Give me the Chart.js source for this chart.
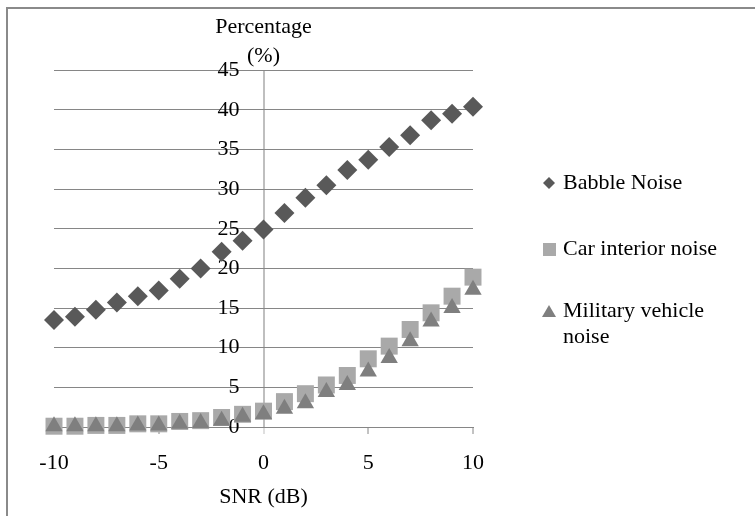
<!DOCTYPE html>
<html>
<head>
<meta charset="utf-8">
<script src="https://cdn.jsdelivr.net/npm/chart.js@4/dist/chart.umd.min.js"></script>
<style>
  html, body { margin: 0; padding: 0; background: #fff; }
  #wrap { position: relative; width: 755px; height: 516px; overflow: hidden; }
  #frame { position: absolute; left: 6px; top: 7px; width: 760px; height: 520px;
           border-top: 2px solid #8a8a8a; border-left: 2px solid #8a8a8a; }
  canvas { position: absolute; left: 0; top: 0; }
</style>
</head>
<body>
<div id="wrap">
  <div id="frame"></div>
  <canvas id="chart" width="755" height="516"></canvas>
</div>
<script>
// SNR values (dB)
var snr = [-10, -9, -8, -7, -6, -5, -4, -3, -2, -1, 0, 1, 2, 3, 4, 5, 6, 7, 8, 9, 10];

// percentages
var babbleNoise = [13.5, 13.9, 14.8, 15.7, 16.5, 17.2, 18.7, 20.0, 22.1, 23.5, 24.9,
                   27.0, 28.9, 30.5, 32.4, 33.7, 35.3, 36.8, 38.7, 39.5, 40.4];
var carInteriorNoise = [0.1, 0.1, 0.2, 0.2, 0.4, 0.4, 0.7, 0.8, 1.2, 1.6, 2.0,
                        3.2, 4.2, 5.3, 6.5, 8.6, 10.2, 12.3, 14.4, 16.5, 18.9];
var militaryVehicleNoise = [0.1, 0.1, 0.1, 0.1, 0.2, 0.2, 0.4, 0.5, 0.8, 1.3, 1.6,
                            2.3, 3.0, 4.4, 5.3, 7.0, 8.7, 10.8, 13.3, 15.0, 17.3];

var seriesLabels = ['Babble Noise', 'Car interior noise', 'Military vehicle noise'];
var xTicks = [-10, -5, 0, 5, 10];
var yTicks = [0, 5, 10, 15, 20, 25, 30, 35, 40, 45];

var FONT = 'Liberation Serif';

function toPoints(values) {
    return snr.map(function (x, i) { return { x: x, y: values[i] }; });
}

// legend on the right, drawn on the canvas (labels wrap like the original)
var sideLegend = {
    id: 'sideLegend',
    afterDraw: function (chart) {
        var ctx = chart.ctx;
        var markX = 549, textX = 563, maxW = 185, lineH = 26;
        var rows = [183, 249, 311];
        ctx.save();
        ctx.font = '22px "' + FONT + '"';
        ctx.textBaseline = 'middle';
        ctx.textAlign = 'left';
        chart.data.datasets.forEach(function (ds, i) {
            var y = rows[i];
            ctx.fillStyle = ds.backgroundColor;
            ctx.beginPath();
            if (ds.pointStyle === 'rectRot') {
                ctx.moveTo(markX - 6, y); ctx.lineTo(markX, y - 6);
                ctx.lineTo(markX + 6, y); ctx.lineTo(markX, y + 6);
            } else if (ds.pointStyle === 'rect') {
                ctx.rect(markX - 6, y - 6, 13, 13);
            } else {
                ctx.moveTo(markX, y - 6); ctx.lineTo(markX + 7, y + 6); ctx.lineTo(markX - 7, y + 6);
            }
            ctx.closePath();
            ctx.fill();

            // simple word wrap
            var words = ds.label.split(' ');
            var line = '';
            var lines = [];
            words.forEach(function (w) {
                var test = line ? line + ' ' + w : w;
                if (ctx.measureText(test).width > maxW && line) {
                    lines.push(line);
                    line = w;
                } else {
                    line = test;
                }
            });
            lines.push(line);
            ctx.fillStyle = '#000';
            lines.forEach(function (l, k) {
                ctx.fillText(l, textX, y + k * lineH);
            });
        });
        ctx.restore();
    }
};

var ctx = document.getElementById('chart').getContext('2d');

new Chart(ctx, {
    type: 'scatter',
    data: {
        datasets: [{
            label: seriesLabels[0],
            data: toPoints(babbleNoise),
            pointStyle: 'rectRot',
            pointRadius: 10,
            backgroundColor: '#595959',
            borderColor: '#595959',
            borderWidth: 0,
            order: 2,
            clip: false
        }, {
            label: seriesLabels[1],
            data: toPoints(carInteriorNoise),
            pointStyle: 'rect',
            pointRadius: 12,
            backgroundColor: '#a9a9a9',
            borderColor: '#a9a9a9',
            borderWidth: 0,
            order: 1,
            clip: false
        }, {
            label: seriesLabels[2],
            data: toPoints(militaryVehicleNoise),
            pointStyle: 'triangle',
            pointRadius: 10,
            backgroundColor: '#7f7f7f',
            borderColor: '#7f7f7f',
            borderWidth: 0,
            order: 0,
            clip: false
        }]
    },
    options: {
        responsive: false,
        animation: false,
        layout: {
            padding: { left: 54, right: 282, top: 0, bottom: 0 }
        },
        plugins: {
            legend: { display: false },
            tooltip: { enabled: false },
            title: {
                display: true,
                fullSize: false,
                text: ['Percentage', '(%)'],
                color: '#000',
                font: { family: FONT, size: 22, weight: 'normal', lineHeight: 1.3 },
                padding: { top: 13, bottom: 0 }
            }
        },
        scales: {
            x: {
                type: 'linear',
                position: 'bottom',
                min: -10,
                max: 10,
                afterBuildTicks: function (scale) {
                    scale.ticks = xTicks.map(function (v) { return { value: v }; });
                },
                afterFit: function (scale) {
                    scale.height = 89;
                },
                ticks: {
                    color: '#000',
                    padding: 16,
                    maxRotation: 0,
                    font: { family: FONT, size: 22 }
                },
                grid: {
                    // only the value-axis line at x = 0 is drawn inside the plot
                    color: function (c) {
                        return c.tick && c.tick.value === 0 ? '#bfbfbf' : 'rgba(0,0,0,0)';
                    },
                    lineWidth: 2,
                    tickLength: 7,
                    tickWidth: 1,
                    tickColor: function (c) {
                        return c.tick && c.tick.value === 0 ? '#bfbfbf' : '#868686';
                    }
                },
                border: { color: '#868686', width: 1 },
                title: {
                    display: true,
                    text: 'SNR (dB)',
                    color: '#000',
                    font: { family: FONT, size: 22 },
                    padding: { top: 0, bottom: 6 }
                }
            },
            y: {
                type: 'linear',
                // labels sit a little left of the x = 0 axis line
                position: { x: -1.15 },
                min: 0,
                max: 45,
                afterBuildTicks: function (scale) {
                    scale.ticks = yTicks.map(function (v) { return { value: v }; });
                },
                ticks: {
                    color: '#000',
                    font: { family: FONT, size: 22 }
                },
                grid: {
                    color: '#868686',
                    drawTicks: false
                },
                border: { display: false }
            }
        }
    },
    plugins: [sideLegend]
});
</script>
</body>
</html>
